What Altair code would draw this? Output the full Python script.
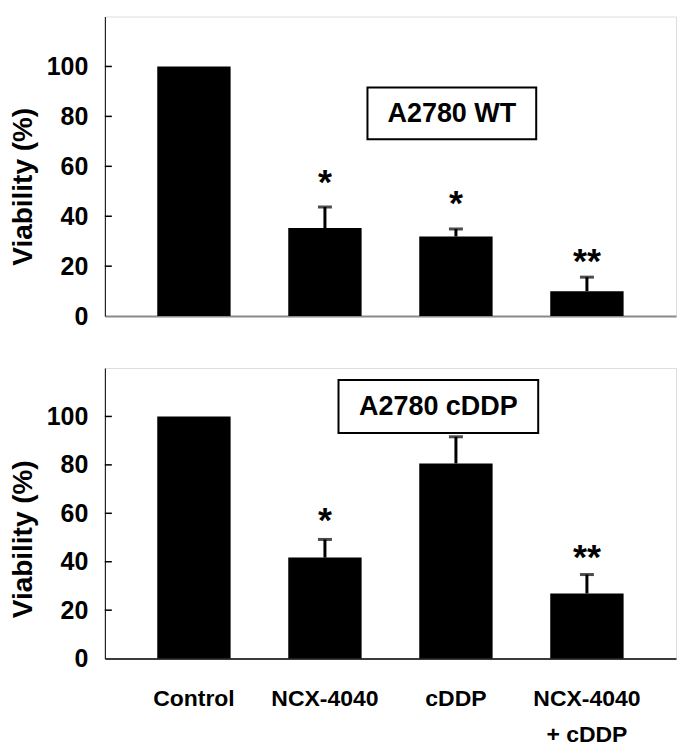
import altair as alt
import pandas as pd

categories = ["Control", "NCX-4040", "cDDP", "NCX-4040 + cDDP"]

wt_values = [100, 35.3, 31.9, 10.0]
wt_errors = [0, 8.4, 3.0, 5.6]
wt_stars = ["", "*", "*", "**"]
wt_star_y = [None, 54.4, 45.9, 23.0]

cddp_values = [100, 41.7, 80.6, 26.9]
cddp_errors = [0, 7.5, 11.0, 7.8]
cddp_stars = ["", "*", "", "**"]
cddp_star_y = [None, 57.9, None, 42.7]

y_ticks = [20, 40, 60, 80, 100]
y_labels = [0, 20, 40, 60, 80, 100]

FONT = "Liberation Sans"


def panel(values, errors, stars, star_y, label, box, height, show_x, x_color, title_y):
    df = pd.DataFrame({"cat": categories, "value": values, "err": errors,
                       "star": stars, "sy": star_y})
    yscale = alt.Scale(domain=[0, 120], nice=False)
    xscale = alt.Scale(paddingInner=0.44, paddingOuter=0.4)
    if show_x:
        xaxis = alt.Axis(title=None, ticks=False, labelAngle=0, labelFont=FONT,
                         labelFontSize=23, labelFontWeight="bold", labelColor="black",
                         labelPadding=29, labelLineHeight=36, labelLimit=300,
                         labelExpr="split(replace(datum.label, ' + ', '|+ '), '|')",
                         domainColor=x_color, domainWidth=1.5, grid=False)
    else:
        xaxis = alt.Axis(title=None, ticks=False, labels=False, grid=False,
                         domainColor=x_color, domainWidth=2)
    yaxis = alt.Axis(title="Viability (%)", values=y_labels, ticks=False, grid=False,
                     labelFont=FONT, labelFontSize=25, labelFontWeight="bold",
                     labelColor="black", labelPadding=17,
                     titleFont=FONT, titleFontSize=28, titleFontWeight="bold",
                     titleColor="black", titlePadding=9, titleY=title_y,
                     domainColor="black", domainWidth=1)
    x = alt.X("cat:N", sort=categories, scale=xscale, axis=xaxis)

    def Y(field):
        return alt.Y(field, scale=yscale, axis=yaxis)

    bars = alt.Chart(df).mark_bar(color="black").encode(x=x, y=Y("value:Q"))
    base_err = alt.Chart(df).transform_filter("datum.err > 0").transform_calculate(
        hi="datum.value + datum.err")
    err = base_err.mark_rule(color="black", strokeWidth=3).encode(
        x=x, y=Y("value:Q"), y2="hi:Q")
    caps = base_err.mark_tick(color="black", thickness=3, size=14).encode(
        x=x, y=Y("hi:Q"))
    star_txt = alt.Chart(df).transform_filter("datum.star != ''").mark_text(
        font=FONT, fontSize=36, fontWeight="bold", color="black",
        baseline="alphabetic", dy=14).encode(
        x=x, y=Y("sy:Q"), text="star:N")
    tick_df = pd.DataFrame({"t": y_ticks})
    ticks = alt.Chart(tick_df).mark_rule(color="black", strokeWidth=1.5).encode(
        x=alt.value(0), x2=alt.value(7), y=Y("t:Q"))
    lab_df = pd.DataFrame({"label": [label]})
    bx0, bx1, by0, by1 = box
    rect = alt.Chart(lab_df).mark_rect(fill="white", stroke="black", strokeWidth=2).encode(
        x=alt.value(bx0), x2=alt.value(bx1), y=alt.value(by0), y2=alt.value(by1))
    rtext = alt.Chart(lab_df).mark_text(font=FONT, fontSize=27, fontWeight="bold",
                                        color="black", baseline="middle",
                                        align="center").encode(
        x=alt.value((bx0 + bx1) / 2), y=alt.value((by0 + by1) / 2 + 1), text="label:N")
    return alt.layer(bars, err, caps, star_txt, ticks, rect, rtext).properties(
        width=572, height=height)


top = panel(wt_values, wt_errors, wt_stars, wt_star_y, "A2780 WT",
            (263, 432, 71, 123), 300, False, "#8a8a8a", 170)
bottom = panel(cddp_values, cddp_errors, cddp_stars, cddp_star_y, "A2780 cDDP",
               (234, 434, 12, 65), 291, True, "black", 171)

chart = alt.vconcat(top, bottom, spacing=37).properties(
    padding={"left": 0, "top": 7, "right": 0, "bottom": 0},
    background="white",
).configure_view(strokeWidth=0).configure(font=FONT)

chart.save("out.html", embed_options={"renderer": "svg", "actions": False})
